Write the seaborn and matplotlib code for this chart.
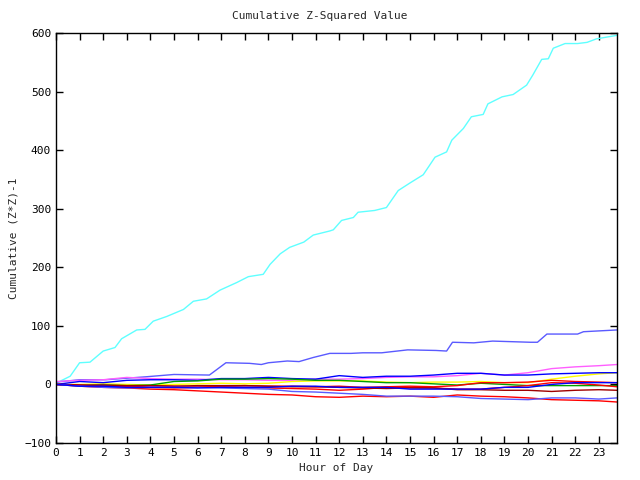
import numpy as np
import pandas as pd
import matplotlib
matplotlib.use("Agg")
import matplotlib.pyplot as plt
import seaborn as sns

# Fine-sampled big series (hour, value)
cyan_x = [0, 0.6, 1.0, 1.44, 2.0, 2.5, 2.78, 3.42, 3.77, 4.12, 4.69, 5.4, 5.82, 6.38, 6.95,
          7.66, 8.15, 8.78, 9.07, 9.5, 9.9, 10.5, 10.9, 11.6, 11.75, 12.1, 12.6, 12.8, 13.5,
          14.0, 14.5, 15.0, 15.56, 16.06, 16.55, 16.77, 17.26, 17.6, 18.1, 18.3, 18.9, 19.37,
          19.94, 20.2, 20.58, 20.86, 21.07, 21.57, 22.1, 22.5, 22.9, 23.77]
cyan_y = [2, 14, 37, 38, 57, 63, 78, 93, 94, 108, 116, 128, 142, 146, 161,
          174, 184, 188, 205, 223, 234, 243, 255, 262, 264, 280, 285, 294, 297,
          302, 331, 344, 358, 388, 397, 417, 437, 457, 461, 479, 491, 495,
          511, 528, 555, 556, 574, 582, 582, 584, 590, 596]

mblue_x = [0, 1.0, 2.1, 3.8, 5.0, 6.5, 7.2, 8.2, 8.7, 9.0, 9.8, 10.3, 10.9, 11.6, 12.5,
           13.0, 13.8, 14.9, 16.1, 16.55, 16.8, 17.7, 18.5, 20.1, 20.4, 20.8, 22.1, 22.35, 23.77]
mblue_y = [4, 8, 8, 13, 17, 16, 37, 36, 34, 37, 40, 39, 46, 53, 53,
           54, 54, 59, 58, 57, 72, 71, 74, 72, 72, 86, 86, 90, 93]

# Hourly-sampled small series
hours = [0, 1, 2, 3, 4, 5, 6, 7, 8, 9, 10, 11, 12, 13, 14, 15, 16, 17, 18, 19, 20, 21, 22, 23, 23.77]
magenta_y = [5, 7, 8, 12, 10, 9, 9, 8, 8, 7, 7, 9, 9, 10, 12, 13, 13, 15, 19, 16, 20, 27, 30, 32, 34]
yellow_y = [0, 0, 1, 0, -1, 0, 1, 2, 1, 2, 5, 6, 6, 6, 4, 3, 4, 4, 5, 3, 3, 9, 14, 18, 20]
blue_y = [0, 5, 3, 7, 8, 8, 7, 10, 10, 12, 10, 9, 15, 12, 14, 14, 16, 19, 19, 16, 16, 18, 19, 20, 20]
green_y = [0, -2, -1, -2, -1, 5, 6, 9, 9, 10, 9, 7, 7, 5, 3, 3, 1, -1, 2, 0, -2, -2, -2, -2, -2]
redA_y = [0, -2, -3, -4, -2, -3, -4, -3, -2, -3, -3, -4, -3, -5, -4, -3, -4, -2, 3, 3, 4, 7, 5, 4, 3]
redB_y = [0, -3, -5, -6, -8, -9, -11, -13, -15, -17, -18, -21, -22, -20, -21, -20, -22, -18, -20, -21, -23, -26, -27, -28, -30]
redC_y = [0, -1, -4, -3, -5, -6, -5, -4, -5, -6, -7, -8, -10, -8, -5, -5, -6, -8, -8, -5, -2, 3, 2, -1, -4]
dred_y = [0, -1, -1, -2, -2, -3, -2, -2, -2, -3, -4, -4, -5, -6, -7, -6, -6, -9, -9, -10, -10, -12, -10, -9, -10]
mblue2_y = [0, -3, -5, -6, -5, -5, -5, -6, -7, -8, -12, -13, -15, -17, -20, -20, -20, -21, -24, -25, -26, -23, -23, -25, -23]
blue2_y = [0, -3, -3, -5, -5, -5, -6, -5, -5, -5, -3, -3, -5, -5, -5, -8, -8, -8, -8, -5, -5, 0, 3, 3, 3]

series = [
    ("cyan", cyan_x, cyan_y, "#5fffff"),
    ("mblue", mblue_x, mblue_y, "#5a5aff"),
    ("magenta", hours, magenta_y, "#ff5fff"),
    ("yellow", hours, yellow_y, "#ffff00"),
    ("blue", hours, blue_y, "#0000ff"),
    ("green", hours, green_y, "#00a000"),
    ("redA", hours, redA_y, "#ff0000"),
    ("redB", hours, redB_y, "#ff0000"),
    ("redC", hours, redC_y, "#ff0000"),
    ("dred", hours, dred_y, "#a00000"),
    ("mblue2", hours, mblue2_y, "#5a5aff"),
    ("blue2", hours, blue2_y, "#0000ff"),
]

rows = []
for name, xs, ys, _ in series:
    for x, y in zip(xs, ys):
        rows.append({"hour": x, "value": y, "series": name})
df = pd.DataFrame(rows)
palette = {name: c for name, _, _, c in series}

sns.set_style("ticks")
plt.rcParams['font.family'] = ['DejaVu Sans Mono', 'DejaVu Sans']

fig = plt.figure(figsize=(6.4, 4.8), dpi=100)
ax = fig.add_axes([56/640, 1-443/480, (617-56)/640, (443-33)/480])
sns.lineplot(data=df, x="hour", y="value", hue="series", palette=palette,
             estimator=None, sort=True, linewidth=1.0, legend=False, ax=ax)

ax.set_xlim(0, 23.77)
ax.set_ylim(-100, 600)
ax.set_xticks(range(0, 24))
ax.set_yticks(range(-100, 601, 100))
ax.tick_params(direction="in", length=5, width=1, top=True, right=True, labelsize=8, colors="black")
for s in ax.spines.values():
    s.set_visible(True)
    s.set_linewidth(1)
    s.set_color("black")
ax.set_xlabel("Hour of Day", fontsize=8)
ax.set_ylabel("Cumulative (Z*Z)-1", fontsize=8)
fig.text(0.5, 1-16/480, "Cumulative Z-Squared Value", ha="center", va="center", fontsize=8)

fig.savefig("out.png", dpi=100)
